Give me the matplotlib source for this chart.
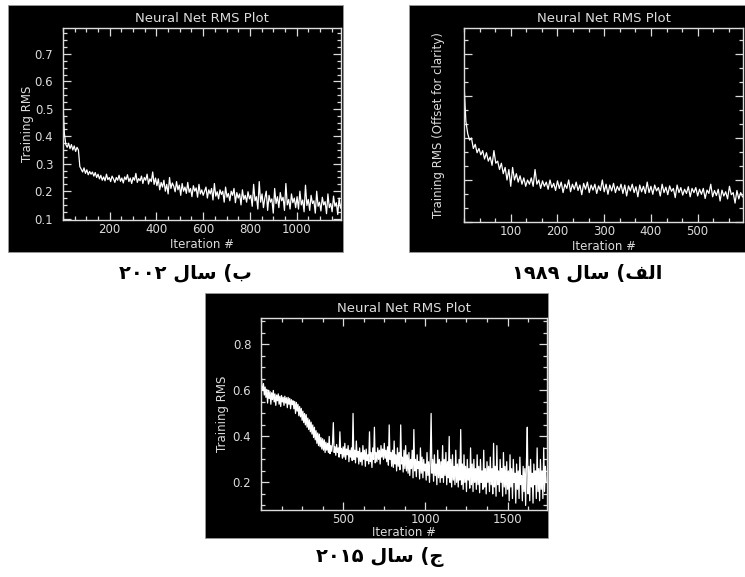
import numpy as np
import matplotlib
matplotlib.use('Agg')
import matplotlib.pyplot as plt
from matplotlib.patches import Rectangle
from matplotlib.ticker import MultipleLocator, AutoMinorLocator, FormatStrFormatter

# Three screenshots of the same "Neural Net RMS Plot" (IDL style, black background)
# Values; one sample every `step` iterations.

# ب) 2002 run: 0..1194, every 6 iterations
step_2002 = 6
rms_2002 = [
    0.52, 0.41, 0.37, 0.36, 0.375, 0.355, 0.37, 0.35, 0.365, 0.345, 0.36, 0.35,
    0.29,
    0.28, 0.27, 0.285, 0.265, 0.278, 0.26, 0.272, 0.262, 0.27, 0.255, 0.268, 0.25, 0.262,
    0.245, 0.258, 0.24, 0.252, 0.238, 0.262, 0.242, 0.25, 0.235, 0.255,
    0.245, 0.232, 0.25, 0.24, 0.258, 0.236, 0.248, 0.23, 0.252, 0.242,
    0.26, 0.235, 0.248, 0.228, 0.25, 0.24, 0.265, 0.232, 0.246, 0.238,
    0.255, 0.228, 0.25, 0.24, 0.262, 0.226, 0.245, 0.235, 0.27, 0.225,
    0.248,
    0.22, 0.245, 0.205, 0.232, 0.215, 0.24, 0.2, 0.225, 0.19, 0.25,
    0.21, 0.23, 0.218, 0.198, 0.235, 0.205, 0.222, 0.185, 0.228, 0.2,
    0.215, 0.192, 0.232, 0.196, 0.21, 0.18, 0.22, 0.2, 0.212, 0.178,
    0.225, 0.19, 0.205, 0.185,
    0.2, 0.215, 0.175, 0.205, 0.19, 0.21, 0.168, 0.228, 0.182, 0.198,
    0.172, 0.205, 0.188, 0.2, 0.16, 0.215, 0.178, 0.192, 0.165, 0.2,
    0.185, 0.21, 0.158, 0.195, 0.175, 0.19, 0.15, 0.205, 0.17, 0.185,
    0.16, 0.198, 0.172,
    0.185, 0.145, 0.225, 0.165, 0.18, 0.135, 0.235, 0.16, 0.19, 0.14,
    0.175, 0.2, 0.13, 0.185, 0.16, 0.172, 0.12, 0.21, 0.155, 0.18,
    0.14, 0.195, 0.165, 0.178, 0.13, 0.228, 0.15, 0.17, 0.135, 0.19,
    0.158, 0.175, 0.14,
    0.18, 0.135, 0.2, 0.15, 0.168, 0.125, 0.222, 0.148, 0.17, 0.13,
    0.185, 0.155, 0.165, 0.12, 0.2, 0.145, 0.16, 0.128, 0.178, 0.15,
    0.162, 0.118, 0.19, 0.14, 0.155, 0.125, 0.182, 0.145, 0.158, 0.115,
    0.175, 0.138, 0.16,
]

# الف) 1989 run: 0..596, every 4 iterations (offset units, no y labels)
step_1989 = 4
rms_1989 = [
    0.33, 0.24, 0.21, 0.195, 0.2, 0.175, 0.185, 0.165, 0.175, 0.16,
    0.17, 0.15, 0.165, 0.145, 0.155, 0.135, 0.17, 0.14, 0.145, 0.125,
    0.14, 0.115, 0.13, 0.1, 0.125, 0.085, 0.13, 0.1, 0.115, 0.095,
    0.11, 0.09, 0.105, 0.085, 0.1, 0.09, 0.105, 0.085, 0.125, 0.09,
    0.1, 0.08, 0.098, 0.085, 0.095, 0.078, 0.1, 0.082, 0.092, 0.075,
    0.098, 0.08, 0.095, 0.07, 0.09, 0.08, 0.1, 0.072, 0.09, 0.078,
    0.095, 0.075, 0.088, 0.065, 0.092, 0.078, 0.095, 0.07, 0.088, 0.076,
    0.09, 0.068, 0.086, 0.075, 0.1, 0.072, 0.09, 0.066, 0.088, 0.074,
    0.092, 0.07, 0.085, 0.075, 0.09, 0.068, 0.088, 0.062, 0.086, 0.074,
    0.09, 0.07, 0.084, 0.06, 0.088, 0.072, 0.085, 0.068, 0.095, 0.07,
    0.085, 0.066, 0.088, 0.074, 0.082, 0.062, 0.09, 0.07, 0.083, 0.065,
    0.086, 0.073, 0.08, 0.058, 0.088, 0.07, 0.082, 0.064, 0.078, 0.068,
    0.084, 0.06, 0.08, 0.07, 0.082, 0.062, 0.078, 0.066, 0.08, 0.056,
    0.076, 0.068, 0.09, 0.06, 0.075, 0.063, 0.078, 0.05, 0.076, 0.062,
    0.072, 0.055, 0.085, 0.065, 0.07, 0.045, 0.075, 0.055, 0.07, 0.06,
]

# ج) 2015 run: 0..1735, every 5 iterations
step_2015 = 5
rms_2015 = [
    0.70, 0.62, 0.6, 0.63, 0.58, 0.615, 0.57, 0.605, 0.545, 0.6,
    0.565, 0.595, 0.54, 0.59, 0.56, 0.6, 0.55, 0.585, 0.535, 0.58,
    0.555, 0.585, 0.54, 0.575, 0.53, 0.578, 0.55, 0.57, 0.535, 0.575,
    0.545, 0.568, 0.525, 0.57, 0.54, 0.565, 0.52, 0.56, 0.538, 0.555,
    0.52, 0.552, 0.5, 0.548, 0.51, 0.54, 0.49, 0.53, 0.485, 0.522,
    0.47, 0.51, 0.46, 0.5, 0.45, 0.495, 0.44, 0.48, 0.43, 0.472,
    0.42, 0.462, 0.41, 0.45, 0.395, 0.44, 0.385, 0.425, 0.37, 0.415,
    0.36, 0.41, 0.355, 0.395, 0.345, 0.39, 0.34, 0.385, 0.33, 0.375,
    0.34, 0.37, 0.33, 0.4, 0.325, 0.36, 0.335, 0.368, 0.46, 0.33,
    0.355, 0.318, 0.365, 0.33, 0.35, 0.31, 0.42, 0.325, 0.348, 0.305,
    0.355, 0.31, 0.37, 0.3, 0.345, 0.32, 0.36, 0.29, 0.34, 0.31,
    0.35, 0.295, 0.5, 0.3, 0.34, 0.285, 0.38, 0.31, 0.335, 0.28,
    0.35, 0.29, 0.33, 0.275, 0.36, 0.3, 0.34, 0.27, 0.345, 0.295,
    0.32, 0.28, 0.42, 0.29, 0.33, 0.265, 0.35, 0.3, 0.44, 0.285,
    0.33, 0.29, 0.35, 0.3, 0.34, 0.28, 0.36, 0.31, 0.345, 0.3,
    0.37, 0.305, 0.34, 0.29, 0.355, 0.275, 0.45, 0.3, 0.33, 0.27,
    0.34, 0.265, 0.38, 0.28, 0.32, 0.25, 0.35, 0.27, 0.33, 0.255,
    0.45, 0.28, 0.31, 0.245, 0.34, 0.26, 0.36, 0.25, 0.32, 0.24,
    0.33, 0.23, 0.3, 0.26, 0.34, 0.22, 0.43, 0.25, 0.3, 0.225,
    0.32, 0.26, 0.29, 0.215, 0.35, 0.24, 0.31, 0.22, 0.3, 0.25,
    0.28, 0.21, 0.33, 0.23, 0.29, 0.2, 0.31, 0.5, 0.24, 0.3,
    0.205, 0.32, 0.23, 0.28, 0.19, 0.34, 0.22, 0.3, 0.2, 0.29,
    0.22, 0.36, 0.2, 0.3, 0.23, 0.33, 0.19, 0.29, 0.22, 0.4,
    0.2, 0.3, 0.18, 0.32, 0.21, 0.27, 0.19, 0.34, 0.2, 0.28,
    0.18, 0.3, 0.21, 0.43, 0.19, 0.28, 0.17, 0.32, 0.2, 0.27,
    0.16, 0.3, 0.21, 0.26, 0.175, 0.35, 0.19, 0.28, 0.16, 0.3,
    0.2, 0.26, 0.17, 0.32, 0.19, 0.27, 0.155, 0.3, 0.2, 0.25,
    0.17, 0.34, 0.18, 0.26, 0.15, 0.29, 0.2, 0.27, 0.16, 0.31,
    0.19, 0.26, 0.15, 0.37, 0.18, 0.27, 0.14, 0.36, 0.19, 0.25,
    0.16, 0.3, 0.2, 0.26, 0.14, 0.33, 0.18, 0.27, 0.15, 0.29,
    0.17, 0.25, 0.12, 0.32, 0.18, 0.26, 0.13, 0.3, 0.2, 0.24,
    0.11, 0.28, 0.17, 0.25, 0.13, 0.31, 0.19, 0.23, 0.12, 0.27,
    0.16, 0.26, 0.1, 0.29, 0.44, 0.15, 0.27, 0.12, 0.3, 0.18,
    0.24, 0.11, 0.28, 0.19, 0.25, 0.13, 0.35, 0.16, 0.26, 0.12,
    0.3, 0.17, 0.25, 0.13, 0.35, 0.16, 0.27, 0.2,
]

title = "Neural Net RMS Plot"
xlabel = "Iteration #"

# Persian captions, written in visual (left-to-right) order with Arabic
# presentation forms, since matplotlib does no RTL shaping.
# logical text: "ب) سال ۲۰۰۲", "الف) سال ۱۹۸۹", "ج) سال ۲۰۱۵"
sal = "\ufedd\ufe8e\ufeb3"          # سال
alef_lam_feh = "\ufed2\ufedf\ufe8d"  # الف
caption_2002 = "\u06f2\u06f0\u06f0\u06f2 " + sal + " (\ufe8f"
caption_1989 = "\u06f1\u06f9\u06f8\u06f9 " + sal + " (" + alef_lam_feh
caption_2015 = "\u06f2\u06f0\u06f1\u06f5 " + sal + " (\ufe9d"

W, H = 745, 577
FG = '#dcdcdc'


def fig_rect(left, top, right, bottom):
    # pixel box (from top-left) -> figure fraction rect
    return [left / W, 1 - bottom / H, (right - left) / W, (bottom - top) / H]


fig = plt.figure(figsize=(W / 100, H / 100), dpi=100)
fig.patch.set_facecolor('white')


def draw_panel(panel_px, axes_px, step, rms, xlim, ylim, xmajor, xminor, ymajor, yminor,
               ylabel, ylabel_x, xlabel_y, ytick_labels, caption, caption_px):
    l, t, r, b = panel_px
    fig.add_artist(Rectangle((l / W, 1 - b / H), (r - l) / W, (b - t) / H,
                             transform=fig.transFigure, facecolor='black',
                             edgecolor='#999999', lw=0.6, zorder=0))
    ax = fig.add_axes(fig_rect(*axes_px))
    ax.set_facecolor('black')
    iters = np.arange(len(rms)) * step
    ax.plot(iters, rms, color='white', lw=0.9)
    ax.set_xlim(*xlim)
    ax.set_ylim(*ylim)
    ax.xaxis.set_major_locator(MultipleLocator(xmajor))
    ax.xaxis.set_minor_locator(AutoMinorLocator(xminor))
    ax.yaxis.set_major_locator(MultipleLocator(ymajor))
    ax.yaxis.set_minor_locator(AutoMinorLocator(yminor))
    ax.yaxis.set_major_formatter(FormatStrFormatter('%.1f'))
    for s in ax.spines.values():
        s.set_color(FG)
        s.set_linewidth(1.0)
    ax.tick_params(which='both', direction='in', top=True, right=True, colors=FG,
                   labelsize=8.5, width=0.9)
    ax.tick_params(which='major', length=6)
    ax.tick_params(which='minor', length=3)
    ax.tick_params(axis='x', pad=2.5)
    ax.tick_params(axis='y', pad=7, labelleft=ytick_labels)
    ax.set_title(title, color=FG, fontsize=9.5, pad=4)
    ax.set_xlabel(xlabel, color=FG, fontsize=8.5, va='center')
    ax.xaxis.set_label_coords(0.5, xlabel_y)
    ax.set_ylabel(ylabel, color=FG, fontsize=8.5, va='center')
    ax.yaxis.set_label_coords(ylabel_x, 0.5)
    cx, cy = caption_px
    fig.text(cx / W, 1 - cy / H, caption, ha='center', va='center', fontsize=14,
             fontweight='bold', family=['DejaVu Sans'], color='black')
    return ax


ax_a = draw_panel((8, 5, 343, 252), (63, 28, 341, 220), step_2002, rms_2002,
                  (0, 1190), (0.095, 0.795), 200, 4, 0.1, 4,
                  "Training RMS", -0.126, -0.13, True, caption_2002, (185, 273))
ax_b = draw_panel((409, 5, 750, 252), (464, 28, 743, 222), step_1989, rms_1989,
                  (0, 597), (0, 0.462), 100, 3, 0.1, 3,
                  "Training RMS (Offset for clarity)", -0.093, -0.124, False,
                  caption_1989, (587, 273))
ax_c = draw_panel((205, 293, 548, 538), (261, 318, 547, 510), step_2015, rms_2015,
                  (0, 1740), (0.08, 0.915), 500, 4, 0.2, 4,
                  "Training RMS", -0.136, -0.115, True, caption_2015, (380, 557))

# drop the tick label at 0 on the x axes (IDL leaves the origin unlabeled)
for ax in (ax_a, ax_b, ax_c):
    lo, hi = ax.get_xlim()
    ax.set_xticks([v for v in ax.get_xticks() if lo < v <= hi])

fig.savefig('out.png', dpi=100, facecolor='white')
